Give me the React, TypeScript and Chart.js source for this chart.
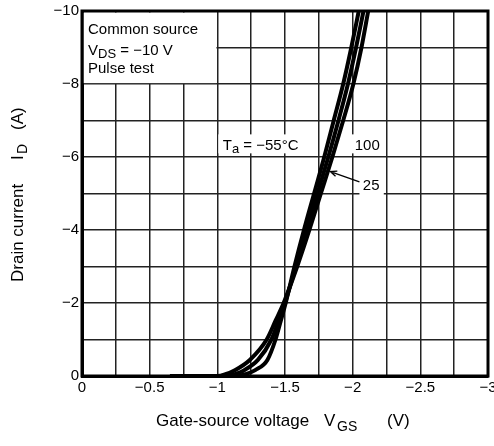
import React, { useEffect, useRef } from "react";
import { Chart, registerables } from "chart.js";

Chart.register(...registerables);

const FONT = '"Liberation Sans", Arial, Helvetica, sans-serif';

// Axis ticks (labelled values)
const X_TICKS = [0, -0.5, -1, -1.5, -2, -2.5, -3];
const X_TICK_LABELS = ["0", "−0.5", "−1", "−1.5", "−2", "−2.5", "−3"];
const Y_TICKS = [0, -2, -4, -6, -8, -10];
const Y_TICK_LABELS = ["0", "−2", "−4", "−6", "−8", "−10"];

// Drain current samples (A), shared by the three curves
const ID_POINTS = [0, 0, -0.05, -0.16, -0.44, -1.0, -1.53, -2.0, -3, -4, -5, -6, -7, -8, -9, -10];
// Gate-source voltage (V) for Ta = -55 °C
const VGS_M55 = [-0.65, -1.14, -1.21, -1.28, -1.37, -1.43, -1.47, -1.505, -1.57, -1.64, -1.715, -1.79, -1.86, -1.93, -1.99, -2.045];
// Ta = 25 °C
const VGS_25 = [-0.65, -1.07, -1.13, -1.2, -1.3, -1.4, -1.455, -1.5, -1.58, -1.66, -1.74, -1.82, -1.895, -1.965, -2.025, -2.08];
// Ta = 100 °C
const VGS_100 = [-0.65, -1.0, -1.06, -1.13, -1.24, -1.365, -1.432, -1.49, -1.59, -1.68, -1.765, -1.85, -1.93, -2.005, -2.065, -2.115];

const SERIES_LABELS = ["−55", "25", "100"];

const toXY = (xs: number[], ys: number[]) => xs.map((x, i) => ({ x, y: ys[i] }));

const matchLabel = (v: number, ticks: number[], labels: string[]) => {
  const i = ticks.findIndex((t) => Math.abs(t - v) < 1e-6);
  return i >= 0 ? labels[i] : "";
};

type Part = [string, boolean];
function rich(ctx: CanvasRenderingContext2D, parts: Part[], x: number, y: number, size: number, subSize: number, drop: number) {
  let cx = x;
  for (const [t, sub] of parts) {
    ctx.font = `${sub ? subSize : size}px ${FONT}`;
    ctx.fillText(t, cx, sub ? y + drop : y);
    cx += ctx.measureText(t).width;
  }
}

const overlay = {
  id: "overlay",
  beforeDatasetsDraw(chart: any) {
    const { ctx, chartArea: a, scales } = chart;
    const xs = scales.x;
    const ys = scales.y;
    ctx.save();
    ctx.fillStyle = "#fff";
    const px = (v: number) => xs.getPixelForValue(v);
    const py = (v: number) => ys.getPixelForValue(v);
    // condition box
    ctx.fillRect(a.left + 1.5, a.top + 1.5, px(-1) - a.left - 2.4, py(-8) - a.top - 2.4);
    // Ta label background
    ctx.fillRect(px(-1) + 1, py(-6.62), px(-1.61) - px(-1) - 1, py(-6.1) - py(-6.62));
    // 100 label background
    ctx.fillRect(px(-1.97), py(-6.62), px(-2.22) - px(-1.97), py(-6.1) - py(-6.62));
    // 25 label background
    ctx.fillRect(px(-2.05), py(-5.5), px(-2.23) - px(-2.05), py(-4.95) - py(-5.5));
    ctx.restore();
  },
  afterDatasetsDraw(chart: any) {
    const { ctx, chartArea: a, scales } = chart;
    const xs = scales.x;
    const ys = scales.y;
    const px = (v: number) => xs.getPixelForValue(v);
    const py = (v: number) => ys.getPixelForValue(v);
    ctx.save();
    // frame
    ctx.strokeStyle = "#000";
    ctx.lineWidth = 3;
    ctx.strokeRect(a.left, a.top, a.right - a.left, a.bottom - a.top);

    ctx.fillStyle = "#000";
    ctx.textBaseline = "alphabetic";
    ctx.textAlign = "left";
    // condition text
    rich(ctx, [["Common source", false]], a.left + 6, a.top + 23, 15, 13, 3);
    rich(ctx, [["V", false], ["DS", true], [" = −10 V", false]], a.left + 6, a.top + 44, 15, 13, 3);
    rich(ctx, [["Pulse test", false]], a.left + 6, a.top + 62, 15, 13, 3);

    // curve labels
    rich(ctx, [["T", false], ["a", true], [" = " + SERIES_LABELS[0] + "°C", false]], px(-1.04), py(-6.19), 15, 13, 3);
    rich(ctx, [[SERIES_LABELS[2], false]], px(-2.015), py(-6.19), 15, 13, 3);
    rich(ctx, [[SERIES_LABELS[1], false]], px(-2.075), py(-5.1), 15, 13, 3);

    // arrow for 25
    const x1 = px(-2.05), y1 = py(-5.32);
    const x2 = px(-1.835), y2 = py(-5.6);
    ctx.lineWidth = 1.3;
    ctx.beginPath();
    ctx.moveTo(x1, y1);
    ctx.lineTo(x2, y2);
    const ang = Math.atan2(y2 - y1, x2 - x1);
    const L = 7;
    ctx.moveTo(x2 - L * Math.cos(ang - 0.4), y2 - L * Math.sin(ang - 0.4));
    ctx.lineTo(x2, y2);
    ctx.lineTo(x2 - L * Math.cos(ang + 0.4), y2 - L * Math.sin(ang + 0.4));
    ctx.stroke();

    // x axis title
    ctx.font = `17px ${FONT}`;
    ctx.fillText("Gate-source voltage", 156, 426);
    ctx.fillText("V", 324, 426);
    ctx.fillText("(V)", 387, 426);
    ctx.font = `14px ${FONT}`;
    ctx.fillText("GS", 337, 431);

    // y axis title (rotated)
    ctx.translate(23, 282);
    ctx.rotate(-Math.PI / 2);
    ctx.font = `17px ${FONT}`;
    ctx.fillText("Drain current", 0, 0);
    ctx.fillText("I", 122, 0);
    ctx.fillText("(A)", 152, 0);
    ctx.font = `14px ${FONT}`;
    ctx.fillText("D", 128, 4);
    ctx.restore();
  },
};

export default function App() {
  const ref = useRef<HTMLCanvasElement | null>(null);
  useEffect(() => {
    if (!ref.current) return;
    const lineDs = (label: string, xs: number[], ys: number[]) => ({
      label,
      data: toXY(xs, ys),
      borderColor: "#000",
      backgroundColor: "#000",
      borderWidth: 4,
      pointRadius: 0,
      cubicInterpolationMode: "monotone" as const,
      fill: false,
      clip: 4,
    });
    const chart = new Chart(ref.current, {
      type: "line",
      data: {
        datasets: [
          lineDs(SERIES_LABELS[0], VGS_M55, ID_POINTS),
          lineDs(SERIES_LABELS[1], VGS_25, ID_POINTS),
          lineDs(SERIES_LABELS[2], VGS_100, ID_POINTS),
        ],
      },
      options: {
        animation: false,
        responsive: false,
        devicePixelRatio: 1,
        layout: { padding: { top: 11, right: 6, left: 0, bottom: 0 } },
        plugins: { legend: { display: false }, tooltip: { enabled: false } },
        scales: {
          x: {
            type: "linear",
            min: -3,
            max: 0,
            reverse: true,
            afterFit: (s: any) => {
              s.height = 70;
              s.paddingLeft = 0;
              s.paddingRight = 0;
            },
            ticks: {
              stepSize: 0.25,
              autoSkip: false,
              maxRotation: 0,
              padding: 3,
              color: "#000",
              font: { family: FONT, size: 15 },
              callback: (v: any) => matchLabel(Number(v), X_TICKS, X_TICK_LABELS),
            },
            grid: { color: "#222", lineWidth: 1.5, drawTicks: false },
            border: { color: "#000", width: 3 },
          },
          y: {
            type: "linear",
            min: -10,
            max: 0,
            reverse: true,
            afterFit: (s: any) => {
              s.width = 82;
              s.paddingTop = 0;
              s.paddingBottom = 0;
            },
            ticks: {
              stepSize: 1,
              autoSkip: false,
              padding: 3,
              color: "#000",
              font: { family: FONT, size: 15 },
              callback: (v: any) => matchLabel(Number(v), Y_TICKS, Y_TICK_LABELS),
            },
            grid: { color: "#222", lineWidth: 1.5, drawTicks: false },
            border: { color: "#000", width: 3 },
          },
        },
      },
      plugins: [overlay],
    } as any);
    return () => chart.destroy();
  }, []);
  return (
    <div style={{ position: "absolute", left: 0, top: 0, width: 494, height: 446, background: "#fff" }}>
      <canvas ref={ref} width={494} height={446} style={{ display: "block" }} />
    </div>
  );
}
